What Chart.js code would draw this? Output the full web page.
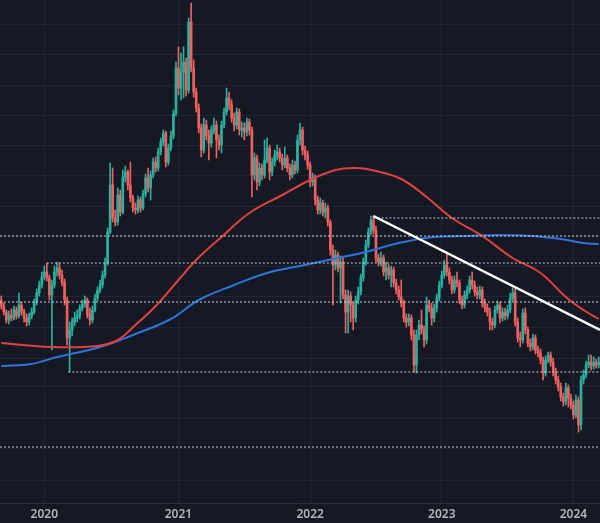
<!DOCTYPE html>
<html>
<head>
<meta charset="utf-8">
<script src="https://cdn.jsdelivr.net/npm/chart.js@4.4.1/dist/chart.umd.min.js"></script>
<style>
  html, body { margin: 0; padding: 0; background: #151924; }
  #wrap { width: 600px; height: 523px; position: relative; }
</style>
</head>
<body>
<div id="wrap"><canvas id="chart"></canvas></div>
<script>
// weekly bars, index 0 = week of 2 Sep 2019
const yearStarts = [17, 70, 122, 174, 226];
const yearLabels = ['2020', '2021', '2022', '2023', '2024'];

const open = [
  22.3,21.7,21.1,20.3,20.8,20.5,21.3,20.7,21.8,21.1,
  20.5,20.1,20.7,21.1,22.1,23.0,23.8,24.6,25.1,24.5,
  22.8,23.8,25.1,25.5,24.8,24.1,22.3,18.5,19.3,20.1,
  20.5,20.7,21.5,21.9,22.3,20.8,20.3,21.3,22.5,23.3,
  23.8,24.8,26.0,29.1,33.8,30.5,30.1,32.8,31.1,34.6,
  35.1,33.8,32.5,31.5,31.3,32.3,31.5,32.9,34.5,33.5,
  34.8,36.1,35.5,37.1,38.1,39.0,36.1,37.5,38.7,40.9,
  45.5,43.5,45.1,46.1,43.3,50.1,45.5,43.1,41.5,39.5,
  37.3,39.8,38.8,38.0,39.3,39.8,38.3,37.8,39.8,41.1,
  42.5,41.8,40.5,39.8,41.1,39.3,39.5,39.1,40.1,39.3,
  34.8,36.5,34.1,35.5,34.8,36.3,37.5,35.1,36.1,36.8,
  37.1,36.5,35.8,36.5,35.5,34.8,35.8,35.3,38.3,39.3,
  37.3,36.8,35.8,34.1,34.6,32.3,31.3,32.0,31.1,31.5,
  30.1,27.3,25.8,26.8,25.5,26.1,22.8,21.1,22.7,21.8,
  20.5,22.3,23.1,24.5,26.1,27.8,29.1,30.3,29.3,26.5,
  26.1,26.5,25.1,25.5,24.8,25.3,24.0,23.3,22.6,22.0,
  20.5,20.1,20.5,18.8,15.8,18.8,19.8,19.3,18.3,21.8,
  21.5,20.5,21.5,22.5,23.8,24.8,25.8,25.1,24.3,23.3,
  24.3,24.0,22.3,21.8,22.8,23.3,24.3,23.8,23.1,22.8,
  23.3,22.0,21.5,21.1,20.1,19.8,21.3,21.8,20.5,21.1,
  20.7,21.3,22.5,23.0,20.1,18.5,18.3,21.0,19.3,18.0,
  17.6,18.5,17.3,17.0,16.3,15.0,16.3,16.8,16.1,15.1,
  14.3,13.6,12.6,12.1,13.5,12.5,11.8,10.8,12.3,9.8,
  14.3,14.8,15.8,16.1,15.7,16.1,15.8
];
const high = [
  22.7,22.0,21.3,21.2,21.4,21.7,21.6,23.0,22.1,21.4,
  20.9,21.0,21.5,22.4,23.4,24.2,25.1,25.7,26.0,24.8,
  24.3,25.7,26.1,26.0,25.3,24.4,22.6,20.1,20.5,21.1,
  21.3,21.8,22.3,22.7,22.5,21.5,21.7,22.9,23.6,24.3,
  25.2,26.5,29.5,36.0,35.5,31.3,33.5,33.3,35.3,35.7,
  35.3,36.1,32.8,32.0,32.7,32.6,33.3,34.9,35.5,35.2,
  36.5,36.6,37.5,38.5,39.3,39.2,37.9,39.2,41.3,46.1,
  47.6,47.0,47.6,46.5,50.5,52.0,46.3,43.5,41.9,39.9,
  40.5,40.3,39.3,39.7,40.5,40.2,38.8,40.2,41.5,43.5,
  43.1,42.3,41.0,41.5,41.4,40.1,40.0,40.5,40.4,39.6,
  37.0,36.8,36.0,35.9,38.3,38.5,37.8,36.5,37.3,37.8,
  37.5,36.9,37.6,36.8,35.9,36.3,36.2,38.8,40.0,39.6,
  37.7,37.2,36.1,35.0,34.8,32.7,32.5,32.3,32.0,31.8,
  30.3,27.8,27.3,27.1,26.7,26.5,23.3,23.3,23.1,22.1,
  22.7,23.6,24.9,26.5,28.3,29.5,30.7,30.7,29.7,26.9,
  27.1,26.8,26.1,25.9,25.7,25.6,24.4,23.7,24.3,22.3,
  20.9,20.9,20.8,19.3,19.3,20.3,21.3,19.7,22.6,22.3,
  22.0,21.9,22.9,24.2,25.2,26.3,27.0,25.5,24.7,24.7,
  25.1,24.3,22.7,23.2,23.7,24.7,25.1,24.2,23.6,23.7,
  23.6,22.4,21.9,21.5,20.5,21.7,22.2,22.1,21.5,21.5,
  21.8,23.0,23.5,23.6,20.5,19.1,21.4,21.5,19.6,18.4,
  18.9,18.8,17.7,17.4,16.6,16.7,17.1,17.1,16.5,15.5,
  14.7,14.0,13.0,14.0,13.8,12.9,12.2,12.8,12.6,14.7,
  15.3,16.2,16.8,16.8,16.6,16.4,16.6
];
const low = [
  21.4,20.8,20.0,19.9,20.2,20.3,20.4,20.5,20.8,20.1,
  19.7,19.8,20.4,20.9,21.8,22.7,23.5,24.3,24.2,22.3,
  17.3,23.5,24.7,24.4,23.7,21.8,17.8,15.1,18.7,19.7,
  20.1,20.4,21.2,21.6,20.5,19.8,20.0,21.1,22.2,23.0,
  23.5,24.5,25.8,28.9,30.1,29.7,29.8,30.7,30.9,34.1,
  33.3,32.1,31.1,30.9,31.0,31.1,31.3,32.6,33.1,32.3,
  34.5,35.1,35.2,36.8,37.7,35.6,35.8,37.2,38.4,40.7,
  42.8,42.3,42.5,42.7,43.0,45.1,42.6,41.1,39.0,36.6,
  37.0,38.3,36.3,37.6,38.9,36.5,37.3,37.0,39.5,40.8,
  41.3,40.1,39.2,39.4,38.8,38.6,38.3,38.7,38.8,32.6,
  34.3,33.3,33.7,34.3,34.5,36.0,34.3,34.7,35.7,36.3,
  36.1,35.3,35.5,35.1,34.3,34.5,34.9,35.0,37.8,36.8,
  36.3,35.4,33.6,33.7,31.8,30.9,30.9,30.7,30.5,29.7,
  26.8,21.8,25.3,25.1,22.0,22.4,19.0,19.0,20.1,19.3,
  20.1,21.9,22.8,24.2,25.8,27.5,28.8,28.9,26.1,25.7,
  25.7,24.7,24.3,24.4,23.6,23.6,22.9,22.3,21.6,20.1,
  19.6,19.7,18.3,15.1,15.0,18.3,18.9,17.6,17.9,21.1,
  19.8,20.1,21.1,22.2,23.5,24.5,24.7,23.9,22.9,23.0,
  23.6,21.9,21.4,21.5,22.4,23.0,23.4,22.7,22.4,22.4,
  21.6,21.1,20.7,19.3,19.3,19.5,21.0,20.0,20.2,20.3,
  20.4,21.0,22.2,19.7,18.1,17.6,18.0,18.9,17.6,17.2,
  17.3,16.9,16.6,15.9,14.3,14.7,16.0,15.7,14.7,13.9,
  13.2,12.2,11.7,11.8,11.6,11.4,10.4,10.5,9.1,9.3,
  13.9,14.5,15.5,15.3,15.4,15.5,15.5
];
const close = [
  21.7,21.1,20.3,20.8,20.5,21.3,20.7,21.8,21.1,20.5,
  20.1,20.7,21.1,22.1,23.0,23.8,24.6,25.1,24.5,22.8,
  23.8,25.1,25.5,24.8,24.1,22.3,18.5,19.3,20.1,20.5,
  20.7,21.5,21.9,22.3,20.8,20.3,21.3,22.5,23.3,23.8,
  24.8,26.0,29.1,33.8,30.5,30.1,32.8,31.1,34.6,35.1,
  33.8,32.5,31.5,31.3,32.3,31.5,32.9,34.5,33.5,34.8,
  36.1,35.5,37.1,38.1,39.0,36.1,37.5,38.7,40.9,45.5,
  43.5,45.1,46.1,43.3,50.1,45.5,43.1,41.5,39.5,37.3,
  39.8,38.8,38.0,39.3,39.8,38.3,37.8,39.8,41.1,42.5,
  41.8,40.5,39.8,41.1,39.3,39.5,39.1,40.1,39.3,34.8,
  36.5,34.1,35.5,34.8,36.3,37.5,35.1,36.1,36.8,37.1,
  36.5,35.8,36.5,35.5,34.8,35.8,35.3,38.3,39.3,37.3,
  36.8,35.8,34.1,34.6,32.3,31.3,32.0,31.1,31.5,30.1,
  27.3,25.8,26.8,25.5,26.1,22.8,21.1,22.7,21.8,20.5,
  22.3,23.1,24.5,26.1,27.8,29.1,30.3,29.3,26.5,26.1,
  26.5,25.1,25.5,24.8,25.3,24.0,23.3,22.6,22.0,20.5,
  20.1,20.5,18.8,15.8,18.8,19.8,19.3,18.3,21.8,21.5,
  20.5,21.5,22.5,23.8,24.8,25.8,25.1,24.3,23.3,24.3,
  24.0,22.3,21.8,22.8,23.3,24.3,23.8,23.1,22.8,23.3,
  22.0,21.5,21.1,20.1,19.8,21.3,21.8,20.5,21.1,20.7,
  21.3,22.5,23.0,20.1,18.5,18.3,21.0,19.3,18.0,17.6,
  18.5,17.3,17.0,16.3,15.0,16.3,16.8,16.1,15.1,14.3,
  13.6,12.6,12.1,13.5,12.5,11.8,10.8,12.3,9.8,14.3,
  14.8,15.8,16.1,15.7,16.1,15.8,16.1
];

// moving averages
const fastMaWeek = [0, 20, 38, 46, 53, 61, 69, 77, 87, 98, 111, 122, 132, 140, 148, 158, 168, 178, 190, 202, 213, 223, 230, 236];
const fastMa     = [18.0, 17.6, 17.7, 18.3, 19.8, 21.7, 24.0, 26.3, 28.6, 31.0, 32.8, 34.3, 35.3, 35.5, 35.2, 34.4, 32.6, 30.5, 28.7, 26.5, 25.0, 22.6, 21.3, 20.4];
const slowMaWeek = [0, 12, 22, 39, 52, 67, 78, 92, 105, 118, 131, 144, 157, 171, 184, 197, 210, 221, 230, 236];
const slowMa     = [15.7, 15.9, 16.6, 17.6, 18.8, 20.4, 22.3, 23.8, 25.0, 25.7, 26.4, 27.1, 28.0, 28.6, 28.7, 28.8, 28.7, 28.4, 28.0, 27.9];

// horizontal levels (dotted) and where each one starts
const levels     = [30.5, 28.7, 26.0, 22.1, 15.1, 7.6];
const levelStart = [147, -0.5, 18, -0.5, 26.5, -0.5];

// falling trendline from the mid-2022 top
const trendWeek  = [147, 236.5];
const trendValue = [30.7, 19.3];

const gridLevels = [4.3, 7.5, 10.5, 13.6, 16.5, 19.6, 22.6, 25.7, 28.7, 31.7, 34.8, 37.8, 40.8, 43.8, 46.8, 49.8];

const UP = '#2ab0a0';
const DOWN = '#f0605e';
const LAST = close.length - 0.5;

const candleColors = close.map((c, i) => c >= open[i] ? UP : DOWN);

const datasets = [];

datasets.push({
  type: 'bar',
  data: close.map((c, i) => ({ x: i, y: [low[i], high[i]] })),
  backgroundColor: candleColors,
  barThickness: 1,
  grouped: false,
  order: 6
});

datasets.push({
  type: 'bar',
  data: close.map((c, i) => ({ x: i, y: [open[i], c] })),
  backgroundColor: candleColors,
  barThickness: 2,
  minBarLength: 1,
  grouped: false,
  order: 5
});

datasets.push({
  type: 'line',
  data: fastMaWeek.map((w, i) => ({ x: w, y: fastMa[i] })),
  borderColor: '#e2403f',
  borderWidth: 2,
  pointRadius: 0,
  tension: 0.4,
  order: 3
});

datasets.push({
  type: 'line',
  data: slowMaWeek.map((w, i) => ({ x: w, y: slowMa[i] })),
  borderColor: '#2f72dc',
  borderWidth: 2,
  pointRadius: 0,
  tension: 0.4,
  order: 3
});

levels.forEach((lv, i) => {
  datasets.push({
    type: 'line',
    data: [{ x: levelStart[i], y: lv }, { x: LAST, y: lv }],
    borderColor: '#c9ccd4',
    borderWidth: 1,
    borderDash: [2, 2],
    pointRadius: 0,
    order: 2
  });
});

datasets.push({
  type: 'line',
  data: trendWeek.map((w, i) => ({ x: w, y: trendValue[i] })),
  borderColor: '#ffffff',
  borderWidth: 2.5,
  pointRadius: 0,
  order: 1
});

const background = {
  id: 'background',
  beforeDraw(chart) {
    const ctx = chart.ctx;
    ctx.save();
    ctx.fillStyle = '#151924';
    ctx.fillRect(0, 0, chart.width, chart.height);
    ctx.restore();
  }
};

new Chart('chart', {
  type: 'bar',
  data: { datasets: datasets },
  plugins: [background],
  options: {
    responsive: true,
    maintainAspectRatio: false,
    animation: false,
    layout: { padding: 0 },
    plugins: { legend: { display: false }, tooltip: { enabled: false } },
    scales: {
      x: {
        type: 'linear',
        min: -0.5,
        max: LAST,
        offset: false,
        afterBuildTicks: s => { s.ticks = yearStarts.map(v => ({ value: v })); },
        afterFit: s => { s.height = 20; },
        ticks: {
          autoSkip: false,
          maxRotation: 0,
          padding: 4,
          color: '#b2b5be',
          font: { family: 'Noto Sans', size: 12, weight: '600' },
          callback: (v, i) => yearLabels[i]
        },
        grid: { color: '#212531', drawTicks: false, offset: false },
        border: { color: '#2a2e39' }
      },
      y: {
        min: 2.0,
        max: 52.3,
        afterBuildTicks: s => { s.ticks = gridLevels.map(v => ({ value: v })); },
        afterFit: s => { s.width = 0; },
        ticks: { display: false },
        grid: { color: '#212531', drawTicks: false },
        border: { display: false }
      }
    }
  }
});
</script>
</body>
</html>
